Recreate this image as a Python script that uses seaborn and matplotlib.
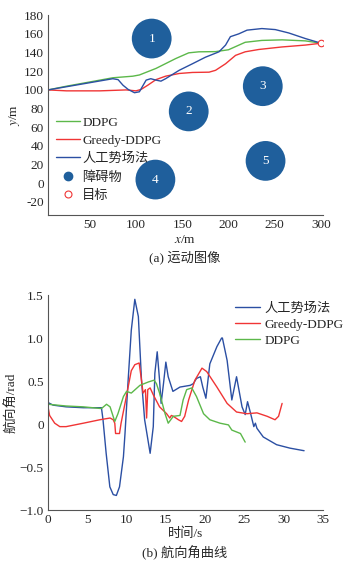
import numpy as np
import pandas as pd
import seaborn as sns
import matplotlib
matplotlib.use("Agg")
import matplotlib.pyplot as plt
from matplotlib.lines import Line2D

# ---------------- data: paths (a) ----------------
ddpg_x = [5, 25, 50, 75, 96.6, 103.7, 121.6, 143, 157, 168, 186, 200, 218, 236, 258, 283, 300]
ddpg_y = [100, 104, 108.5, 113, 114.7, 116, 123, 133.6, 139.7, 140.8, 141, 143, 151, 153, 153.6, 152.5, 150]

greedy_x = [5, 25, 61, 89.4, 100, 105.5, 112.7, 121.6, 132, 146.7, 161, 179, 186, 196.8, 207.6, 218, 232.7, 257.7, 282.8, 300]
greedy_y = [100, 99, 99, 100, 99, 100.5, 105, 111, 114.7, 117.6, 118.7, 119, 121, 128, 137, 140.8, 143.3, 146, 148, 150]

apf_x = [5, 40, 75, 80.7, 86, 91.6, 98.4, 103.7, 106.6, 111, 116, 121.6, 127, 132, 146.7, 161, 175, 189.7, 196.8,
         202, 211, 220, 236, 250.5, 265, 283, 300]
apf_y = [100, 106, 112, 111, 105, 100.5, 97, 98, 103, 110.5, 112, 110.5, 109.4, 112, 121, 128, 135, 140.8, 148,
         157, 160, 164, 165.7, 164.6, 161, 155, 150]

obs_x = [117, 157, 237, 121, 240]
obs_y = [155, 77, 104, 4, 24]
obs_labels = ["1", "2", "3", "4", "5"]
target_x = [300]
target_y = [150]

# ---------------- data: heading angle (b) ----------------
apf_t = [0, 0.64, 2.3, 4.5, 6.8, 7.0, 7.4, 7.87, 8.3, 8.7, 9.1, 9.6, 9.8, 10.2, 10.6, 11.05, 11.5, 11.9, 12.3, 13.0,
         13.4, 13.6, 13.9, 14.2, 14.4, 14.7, 15.0, 15.3, 15.9, 16.8, 18.1, 18.5, 18.9, 19.4, 19.7, 20.1, 20.6, 21.5,
         22.1, 22.2, 22.8, 23.4, 24.0, 24.7, 25.1, 25.4, 25.8, 26.2, 26.4, 26.6, 27.4, 29.1, 30.8, 32.6]
apf_h = [0.25, 0.22, 0.2, 0.19, 0.19, 0.05, -0.34, -0.73, -0.82, -0.83, -0.73, -0.38, -0.11, 0.51, 1.09, 1.45, 1.25,
         0.51, 0.05, -0.34, -0.03, 0.59, 0.84, 0.51, 0.24, 0.47, 0.72, 0.55, 0.38, 0.43, 0.45, 0.47, 0.53, 0.55, 0.43,
         0.30, 0.70, 0.9, 1.0, 1.0, 0.74, 0.28, 0.55, 0.2, 0.11, 0.26, 0.12, -0.03, 0.01, -0.05, -0.15, -0.24, -0.28,
         -0.31]

greedy_t = [0, 0.2, 0.85, 1.5, 2.3, 4.5, 6.6, 7.9, 8.3, 8.5, 8.6, 9.1, 9.3, 9.8, 10.2, 10.6, 11.05, 11.6, 11.9, 12.1,
            12.4, 12.55, 12.7, 13.0, 13.4, 14.2, 15.1, 15.5, 15.7, 15.95, 16.6, 17.0, 17.4, 17.9, 18.7, 19.6, 20.2,
            21.5, 22.8, 24.0, 25.3, 26.6, 27.9, 28.9, 29.35, 29.8]
greedy_h = [0.2, 0.1, 0.01, -0.03, -0.03, 0.01, 0.05, 0.07, 0.05, 0.01, -0.11, -0.11, 0.01, 0.24, 0.43, 0.62, 0.69,
            0.71, 0.51, 0.36, 0.40, 0.07, 0.40, 0.42, 0.34, 0.20, 0.12, 0.07, 0.1, 0.09, 0.05, 0.03, 0.09, 0.28, 0.51,
            0.65, 0.61, 0.43, 0.24, 0.14, 0.12, 0.13, 0.09, 0.05, 0.09, 0.24]

ddpg_t = [0, 2.3, 4.5, 6.8, 7.45, 7.9, 8.5, 8.9, 9.6, 10.0, 10.6, 11.7, 12.8, 13.5, 13.8, 14.2, 14.9, 15.3, 15.95,
          16.8, 17.2, 17.65, 18.3, 18.9, 19.8, 20.6, 21.9, 22.97, 23.4, 24.5, 25.1]
ddpg_h = [0.23, 0.21, 0.2, 0.18, 0.23, 0.2, 0.03, 0.12, 0.32, 0.38, 0.36, 0.45, 0.49, 0.51, 0.47, 0.36, 0.12, 0.01,
          0.09, 0.1, 0.28, 0.4, 0.42, 0.32, 0.12, 0.05, 0.01, -0.01, -0.07, -0.11, -0.21]

yticks_b = [-1.0, -0.5, 0, 0.5, 1.0, 1.5]
yticklabels_b = ["\u22121.0", "\u22120.5", "0", "0.5", "1.0", "1.5"]

# ---------------- style ----------------
sns.set_theme(style="white")
plt.rcParams["font.family"] = ["Liberation Serif", "Noto Sans CJK SC"]
plt.rcParams["mathtext.fontset"] = "stix"
plt.rcParams["axes.unicode_minus"] = False

C_GREEN = "#5cb84a"
C_RED = "#f03535"
C_BLUE = "#2b4fa3"
C_OBS = "#1f5f9c"
FS = 9.5

fig = plt.figure(figsize=(3.48, 5.63), dpi=100)
ax1 = fig.add_axes([0.138, 0.618, 0.79, 0.355])
ax2 = fig.add_axes([0.138, 0.094, 0.79, 0.382])

# ---- (a) ----
sns.lineplot(x=ddpg_x, y=ddpg_y, ax=ax1, color=C_GREEN, lw=1.0, sort=False, estimator=None)
sns.lineplot(x=greedy_x, y=greedy_y, ax=ax1, color=C_RED, lw=1.0, sort=False, estimator=None)
sns.lineplot(x=apf_x, y=apf_y, ax=ax1, color=C_BLUE, lw=1.0, sort=False, estimator=None)
sns.scatterplot(x=obs_x, y=obs_y, ax=ax1, s=820, color=C_OBS, edgecolor="none", zorder=3)
for xx, yy, lb in zip(obs_x, obs_y, obs_labels):
    ax1.text(xx, yy, lb, color="white", ha="center", va="center", fontsize=FS, zorder=4)
sns.scatterplot(x=target_x, y=target_y, ax=ax1, s=22, facecolor="white", edgecolor=C_RED, linewidth=0.8, zorder=5)

ax1.set_xlim(5, 302)
ax1.set_ylim(-34, 180)
ax1.set_xticks([50, 100, 150, 200, 250, 300])
ax1.set_yticks(list(range(-20, 181, 20)))
ax1.set_xlabel("$x$/m", fontsize=FS, labelpad=2)
ax1.set_ylabel("$y$/m", fontsize=FS, labelpad=1)

h1 = [Line2D([], [], color=C_GREEN, lw=1.0),
      Line2D([], [], color=C_RED, lw=1.0),
      Line2D([], [], color=C_BLUE, lw=1.0),
      Line2D([], [], ls="none", marker="o", color=C_OBS, markersize=6),
      Line2D([], [], ls="none", marker="o", markerfacecolor="white", markeredgecolor=C_RED, markersize=5, mew=0.8)]
ax1.legend(h1, ["DDPG", "Greedy-DDPG", "人工势场法", "障碍物", "目标"], loc="upper left",
           bbox_to_anchor=(-0.005, 0.54), frameon=False, fontsize=FS, handlelength=1.8,
           handletextpad=0.2, labelspacing=0.45, borderpad=0.2)

# ---- (b) ----
sns.lineplot(x=apf_t, y=apf_h, ax=ax2, color=C_BLUE, lw=1.0, sort=False, estimator=None, label="人工势场法")
sns.lineplot(x=greedy_t, y=greedy_h, ax=ax2, color=C_RED, lw=1.0, sort=False, estimator=None, label="Greedy-DDPG")
sns.lineplot(x=ddpg_t, y=ddpg_h, ax=ax2, color=C_GREEN, lw=1.0, sort=False, estimator=None, label="DDPG")
ax2.set_xlim(0, 35)
ax2.set_ylim(-1.0, 1.5)
ax2.set_xticks(range(0, 36, 5))
ax2.set_yticks(yticks_b)
ax2.set_yticklabels(yticklabels_b)
ax2.set_xlabel("时间/s", fontsize=FS, labelpad=1)
ax2.set_ylabel("航向角/rad", fontsize=FS, labelpad=1)
ax2.legend(loc="upper left", bbox_to_anchor=(0.645, 1.01), frameon=False, fontsize=FS, handlelength=1.9,
           handletextpad=0.35, labelspacing=0.3, borderpad=0.2)

for ax in (ax1, ax2):
    sns.despine(ax=ax)
    for s in ("left", "bottom"):
        ax.spines[s].set_color("#555555")
        ax.spines[s].set_linewidth(0.8)
    ax.tick_params(axis="both", labelsize=FS, length=2, width=0.6, color="#555555", pad=3, direction="in")

fig.text(0.53, 0.542, "(a) 运动图像", ha="center", va="center", fontsize=FS)
fig.text(0.53, 0.018, "(b) 航向角曲线", ha="center", va="center", fontsize=FS)

fig.savefig("out.png", dpi=100)
